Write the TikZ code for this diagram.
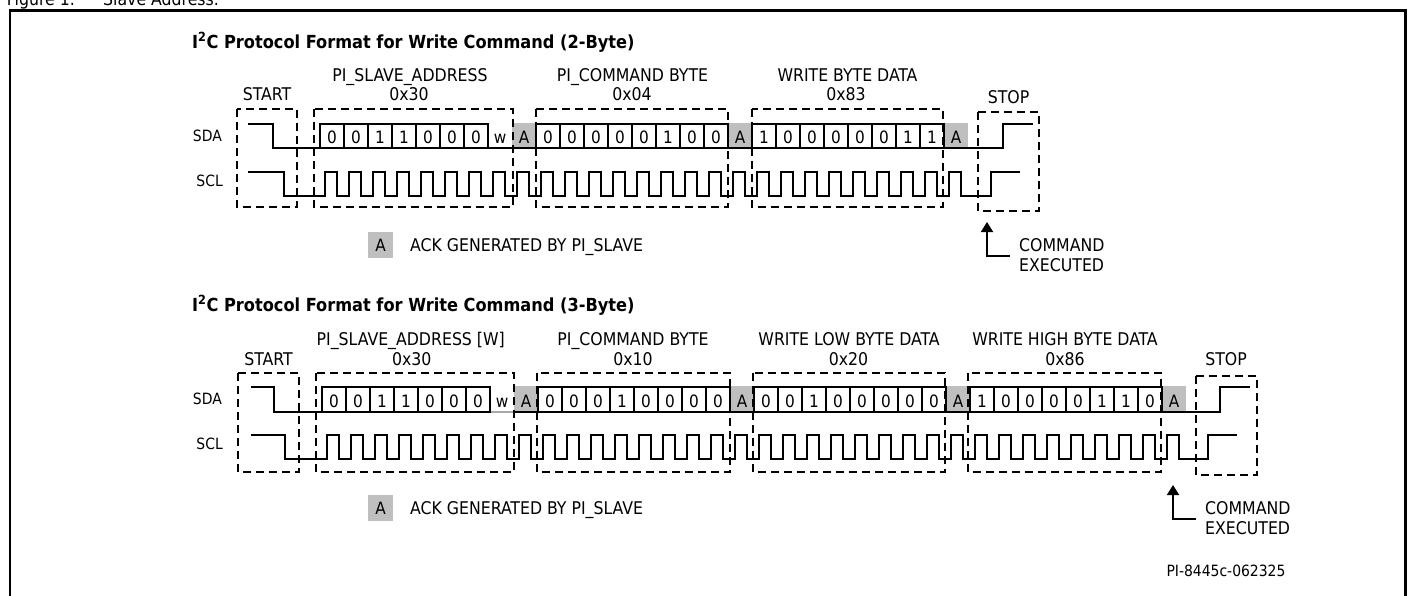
\documentclass[tikz,border=0pt]{standalone}
\usepackage{fontspec}
\IfFontExistsTF{DejaVu Sans Condensed}{\setmainfont{DejaVu Sans Condensed}}{\setmainfont{DejaVu Sans}[FakeStretch=0.9]}
\usetikzlibrary{arrows.meta}
\definecolor{ackgray}{RGB}{191,191,191}
\definecolor{wgray}{RGB}{170,170,170}
\tikzset{
  wave/.style={line width=1.8pt, line join=miter},
  cellline/.style={line width=1.2pt},
  dbox/.style={line width=1.5pt, dash pattern=on 8pt off 5pt},
  txt/.style={inner sep=0pt, anchor=base, font=\fontsize{17.5}{20}\selectfont},
  txtl/.style={txt, anchor=base west},
  sig/.style={inner sep=0pt, anchor=base east, font=\fontsize{15.5}{18}\selectfont},
  bit/.style={inner sep=0pt, anchor=base, font=\fontsize{17}{20}\selectfont},
  ttl/.style={inner sep=0pt, anchor=base west, font=\bfseries\fontsize{18}{21}\selectfont},
  ackfill/.style={fill=ackgray, draw=none},
  uparrow/.style={line width=1.8pt, -{Triangle[width=12pt,length=10pt]}},
  frame/.style={line width=2.5pt},
}
\begin{document}
\begin{tikzpicture}[x=1pt,y=-1pt]
\useasboundingbox (0,0) rectangle (1415,595);
% frame and caption
\node[txtl] (figno) at (6.7,5) {Figure 1.};
\node[txtl] (figcap) at (103,5) {Slave Address.};
\draw[frame] (10,600) -- (10,10.5) -- (1405.3,10.5) -- (1405.3,600);

% ================= Diagram 1 (2-Byte) =================
\node[ttl] (t1) at (192,48) {I\textsuperscript{2}C Protocol Format for Write Command (2-Byte)};
\node[txt] (start1) at (267,100.5) {START};
\node[txt] (addr1) at (410,81) {PI\_SLAVE\_ADDRESS};
\node[txt] (addrv1) at (409,100.5) {0x30};
\node[txt] (cmd1) at (632.5,81) {PI\_COMMAND BYTE};
\node[txt] (cmdv1) at (632,100.5) {0x04};
\node[txt] (data1) at (847.5,81) {WRITE BYTE DATA};
\node[txt] (datav1) at (846,100.5) {0x83};
\node[txt] (stop1) at (1008.5,103) {STOP};
\node[sig] (sda1) at (222,141) {SDA};
\node[sig] (scl1) at (223,186.7) {SCL};
% ack cells
\foreach \x in {512,728,944} \fill[ackgray] (\x,123) rectangle ({\x+24},148);
% SDA
\draw[wave] (248,124) -- (273,124) -- (273,148) -- (1003,148) -- (1003,124) -- (1033,124);
% SCL
\draw[wave] (248,172) -- (284,172) -- (284,196)
  \foreach \k in {0,...,26}{ -- ({325+24*\k},196) -- ({325+24*\k},172) -- ({337+24*\k},172) -- ({337+24*\k},196)}
  -- (991,196) -- (991,172) -- (1020,172);
% bit boxes
\draw[cellline] (320,148) rectangle (488,124);
\foreach \i in {1,...,6} \draw[cellline] ({320+24*\i},124) -- ({320+24*\i},148);
\draw[cellline] (536,148) rectangle (728,124);
\foreach \i in {1,...,7} \draw[cellline] ({536+24*\i},124) -- ({536+24*\i},148);
\draw[cellline] (752,148) rectangle (944,124);
\foreach \i in {1,...,7} \draw[cellline] ({752+24*\i},124) -- ({752+24*\i},148);
\foreach \b [count=\i from 0] in {0,0,1,1,0,0,0} \node[bit] (a1b\i) at ({332+24*\i},143) {\b};
\node[bit] (w1) at (500,143) {w};
\foreach \b [count=\i from 0] in {0,0,0,0,0,1,0,0} \node[bit] (c1b\i) at ({548+24*\i},143) {\b};
\foreach \b [count=\i from 0] in {1,0,0,0,0,0,1,1} \node[bit] (d1b\i) at ({764+24*\i},143) {\b};
\foreach \x [count=\i] in {524,740,956} \node[bit] (ack1\i) at (\x,143) {A};
% dashed boxes
\draw[dbox] (237,109) rectangle (297,207);
\draw[dbox] (314,109) rectangle (513,207);
\draw[dbox] (536,109) rectangle (728,207);
\draw[dbox] (752,109) rectangle (943,207);
\draw[dbox] (978,112) rectangle (1039,211);
% legend
\fill[ackgray] (368,232) rectangle (393,258);
\node[bit] (leg1a) at (380.5,251.5) {A};
\node[txtl] (leg1) at (410,251.7) {ACK GENERATED BY PI\_SLAVE};
% command executed
\coordinate (ce1c) at (1010,256);
\coordinate (ce1t) at (987,222);
\draw[uparrow] (ce1c) -- (987,256) -- (ce1t);
\node[txtl] (ce1a) at (1019,251.7) {COMMAND};
\node[txtl] (ce1b) at (1019,271.7) {EXECUTED};

% ================= Diagram 2 (3-Byte) =================
\node[ttl] (t2) at (192,311) {I\textsuperscript{2}C Protocol Format for Write Command (3-Byte)};
\node[txt] (start2) at (268.5,365) {START};
\node[txt] (addr2) at (410.8,345) {PI\_SLAVE\_ADDRESS [W]};
\node[txt] (addrv2) at (411.7,365) {0x30};
\node[txt] (cmd2) at (633,345) {PI\_COMMAND BYTE};
\node[txt] (cmdv2) at (633,365) {0x10};
\node[txt] (low2) at (849,345) {WRITE LOW BYTE DATA};
\node[txt] (lowv2) at (848.5,365) {0x20};
\node[txt] (high2) at (1065,345) {WRITE HIGH BYTE DATA};
\node[txt] (highv2) at (1065,365) {0x86};
\node[txt] (stop2) at (1226,365) {STOP};
\node[sig] (sda2) at (222,404) {SDA};
\node[sig] (scl2) at (223,449.7) {SCL};
\foreach \x in {514,730,946,1162} \fill[ackgray] (\x,386) rectangle ({\x+24},412);
\draw[wave] (251,387) -- (274,387) -- (274,412) -- (1220,412) -- (1220,387) -- (1250,387);
\draw[wgray, line width=1.8pt] (491,412) -- (513,412);
\draw[wave] (251,435) -- (285,435) -- (285,459)
  \foreach \k in {0,...,35}{ -- ({327+24*\k},459) -- ({327+24*\k},435) -- ({339+24*\k},435) -- ({339+24*\k},459)}
  -- (1208,459) -- (1208,435) -- (1237,435);
\draw[cellline] (322,412) rectangle (490,387);
\foreach \i in {1,...,6} \draw[cellline] ({322+24*\i},387) -- ({322+24*\i},412);
\draw[cellline] (538,412) rectangle (730,387);
\foreach \i in {1,...,7} \draw[cellline] ({538+24*\i},387) -- ({538+24*\i},412);
\draw[cellline] (754,412) rectangle (946,387);
\foreach \i in {1,...,7} \draw[cellline] ({754+24*\i},387) -- ({754+24*\i},412);
\draw[cellline] (970,412) rectangle (1162,387);
\foreach \i in {1,...,7} \draw[cellline] ({970+24*\i},387) -- ({970+24*\i},412);
\foreach \b [count=\i from 0] in {0,0,1,1,0,0,0} \node[bit] (a2b\i) at ({334+24*\i},407) {\b};
\node[bit] (w2) at (502,407) {w};
\foreach \b [count=\i from 0] in {0,0,0,1,0,0,0,0} \node[bit] (c2b\i) at ({550+24*\i},407) {\b};
\foreach \b [count=\i from 0] in {0,0,1,0,0,0,0,0} \node[bit] (l2b\i) at ({766+24*\i},407) {\b};
\foreach \b [count=\i from 0] in {1,0,0,0,0,1,1,0} \node[bit] (h2b\i) at ({982+24*\i},407) {\b};
\foreach \x [count=\i] in {526,742,958,1174} \node[bit] (ack2\i) at (\x,407) {A};
\draw[dbox] (238,373) rectangle (299,472);
\draw[dbox] (316,373) rectangle (514,472);
\draw[dbox] (537,373) rectangle (730,472);
\draw[dbox] (753,373) rectangle (945,472);
\draw[dbox] (968,373) rectangle (1161,472);
\draw[dbox] (1196,376) rectangle (1257,475);
\fill[ackgray] (368,495) rectangle (393,521);
\node[bit] (leg2a) at (380.5,514.5) {A};
\node[txtl] (leg2) at (410,514.7) {ACK GENERATED BY PI\_SLAVE};
\coordinate (ce2c) at (1196,519);
\coordinate (ce2t) at (1173,485);
\draw[uparrow] (ce2c) -- (1173,519) -- (ce2t);
\node[txtl] (ce2a) at (1205,514.7) {COMMAND};
\node[txtl] (ce2b) at (1205,534.7) {EXECUTED};
\node[inner sep=0pt, anchor=base, font=\fontsize{15.5}{18}\selectfont] (pid) at (1226,576.7) {PI-8445c-062325};
\end{tikzpicture}
\end{document}
